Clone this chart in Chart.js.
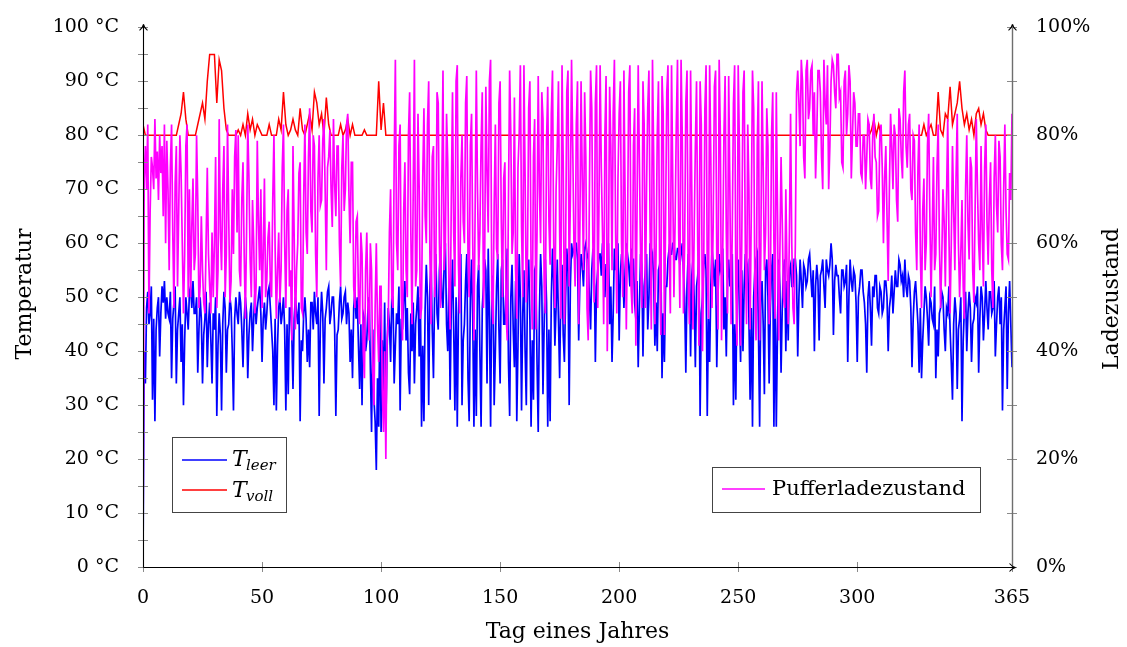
<!DOCTYPE html>
<html>
<head>
  <title>Pufferspeicher über ein Jahr</title>
  <script src="https://cdn.jsdelivr.net/npm/chart.js"></script>
  <style>
    body { margin: 0; background: #fff; }
    #wrap { width: 1127px; height: 647px; }
  </style>
</head>
<body>
  <div id="wrap"><canvas id="c" width="1127" height="647"></canvas></div>
  <script>
    // --- DATA (two values per day) ---

    // T_leer in °C, days 0, 0.5, 1, ... 365
    const tLeer = [
      0, 40, 34, 48, 51, 45, 47, 52, 31, 46, 27, 44, 48, 50, 39, 47, 52, 49, 53, 46,
      50, 47, 46, 51, 35, 46, 49, 52, 34, 44, 47, 50, 38, 45, 30, 42, 50, 47, 44, 51,
      52, 48, 53, 47, 47, 50, 36, 44, 50, 46, 34, 43, 46, 51, 37, 45, 49, 42, 34, 47,
      44, 50, 28, 41, 47, 43, 29, 45, 51, 48, 36, 44, 45, 50, 48, 40, 29, 46, 50, 47,
      45, 51, 49, 44, 37, 46, 50, 47, 35, 43, 47, 49, 40, 46, 51, 45, 48, 50, 52, 47,
      38, 46, 49, 44, 47, 51, 52, 48, 44, 40, 30, 46, 29, 41, 48, 50, 45, 47, 50, 44,
      29, 45, 32, 48, 48, 43, 33, 46, 50, 47, 45, 49, 27, 42, 40, 47, 50, 46, 38, 44,
      37, 49, 49, 44, 51, 47, 45, 50, 28, 45, 51, 47, 34, 46, 48, 51, 52, 45, 47, 50,
      50, 44, 28, 43, 44, 49, 52, 46, 47, 50, 51, 45, 49, 47, 38, 44, 35, 48, 51, 46,
      50, 41, 33, 45, 30, 47, 46, 40, 42, 48, 50, 37, 25, 44, 31, 27, 18, 35, 26, 48,
      25, 42, 30, 49, 26, 40, 48, 45, 38, 50, 50, 34, 41, 47, 45, 52, 29, 46, 44, 50,
      53, 42, 48, 36, 32, 47, 40, 49, 34, 45, 48, 52, 39, 50, 26, 41, 27, 48, 56, 50,
      30, 52, 56, 44, 35, 51, 58, 47, 44, 55, 59, 50, 48, 56, 60, 45, 40, 53, 31, 49,
      57, 44, 29, 50, 26, 47, 55, 58, 30, 42, 45, 53, 58, 35, 27, 50, 57, 46, 26, 44,
      28, 52, 56, 40, 26, 48, 52, 57, 55, 34, 59, 46, 26, 51, 54, 30, 40, 52, 58, 44,
      34, 55, 57, 45, 45, 52, 59, 38, 28, 50, 56, 44, 37, 53, 27, 41, 58, 50, 29, 47,
      55, 40, 30, 52, 57, 46, 26, 42, 31, 55, 56, 38, 25, 47, 58, 52, 32, 45, 57, 49,
      26, 44, 27, 50, 59, 53, 41, 48, 57, 46, 35, 51, 56, 43, 38, 50, 59, 55, 30, 52,
      60, 58, 59, 60, 60, 57, 42, 53, 58, 56, 52, 59, 60, 58, 57, 50, 44, 55, 59, 57,
      38, 52, 55, 58, 58, 54, 60, 57, 50, 56, 56, 60, 45, 52, 38, 47, 59, 55, 57, 60,
      42, 54, 58, 56, 48, 55, 60, 58, 56, 52, 59, 57, 57, 49, 46, 53, 37, 48, 58, 56,
      39, 52, 55, 58, 44, 50, 60, 57, 58, 53, 41, 49, 40, 55, 56, 58, 35, 47, 38, 52,
      52, 57, 59, 58, 58, 60, 60, 57, 57, 59, 59, 56, 58, 60, 55, 50, 36, 52, 58, 56,
      39, 54, 57, 50, 37, 52, 54, 58, 28, 47, 50, 56, 58, 55, 28, 46, 38, 52, 59, 56,
      52, 57, 37, 50, 58, 55, 56, 59, 44, 50, 39, 53, 57, 52, 55, 58, 30, 45, 31, 52,
      57, 48, 38, 55, 40, 52, 58, 55, 56, 46, 31, 48, 26, 50, 55, 57, 58, 44, 26, 50,
      53, 45, 32, 55, 57, 50, 34, 48, 55, 58, 26, 50, 26, 44, 57, 52, 36, 48, 55, 57,
      40, 53, 42, 55, 56, 52, 52, 57, 57, 54, 39, 50, 57, 53, 48, 56, 55, 52, 53, 57,
      58, 54, 50, 55, 40, 52, 56, 53, 42, 54, 55, 57, 52, 48, 57, 55, 54, 56, 60, 57,
      43, 53, 56, 54, 54, 50, 47, 55, 55, 52, 53, 56, 38, 50, 57, 53, 51, 55, 54, 49,
      38, 50, 52, 55, 55, 51, 49, 45, 36, 50, 53, 48, 41, 52, 50, 54, 54, 48, 47, 52,
      51, 47, 48, 53, 53, 50, 40, 48, 50, 54, 47, 51, 55, 52, 52, 57, 56, 53, 54, 50,
      57, 52, 50, 54, 53, 48, 37, 46, 51, 53, 49, 45, 36, 48, 35, 42, 47, 52, 50, 46,
      41, 50, 49, 46, 45, 52, 35, 44, 39, 47, 48, 51, 50, 44, 40, 48, 47, 52, 44, 38,
      31, 45, 50, 47, 33, 44, 46, 50, 27, 42, 48, 51, 40, 47, 51, 48, 38, 45, 46, 50,
      49, 52, 36, 46, 52, 50, 42, 47, 53, 48, 44, 51, 51, 47, 48, 53, 39, 45, 50, 52,
      45, 50, 29, 44, 48, 52, 33, 47, 53, 45, 37
    ];

    // Pufferladezustand in %, days 0, 0.5, 1, ... 365
    const pLade = [
      0, 72, 78, 70, 82, 47, 66, 76, 74, 70, 83, 72, 77, 68, 80, 73, 78, 65, 82, 60,
      79, 70, 55, 74, 82, 62, 48, 71, 78, 52, 66, 80, 73, 60, 47, 58, 78, 82, 50, 70,
      50, 63, 72, 55, 58, 80, 68, 48, 52, 65, 55, 49, 47, 60, 74, 58, 52, 47, 62, 50,
      60, 76, 48, 55, 83, 62, 55, 70, 78, 50, 58, 82, 65, 49, 53, 70, 58, 76, 81, 62,
      80, 55, 52, 68, 75, 58, 46, 62, 82, 72, 57, 50, 68, 60, 47, 52, 79, 64, 55, 70,
      48, 58, 72, 50, 53, 61, 64, 52, 50, 68, 80, 59, 46, 55, 62, 49, 55, 74, 82, 60,
      48, 66, 70, 52, 55, 42, 78, 61, 44, 55, 60, 73, 75, 48, 47, 69, 82, 62, 58, 76,
      85, 66, 62, 80, 78, 58, 50, 72, 80, 67, 68, 79, 83, 70, 55, 74, 76, 81, 70, 63,
      83, 71, 65, 78, 78, 60, 52, 74, 80, 66, 70, 82, 84, 69, 60, 75, 75, 52, 48, 64,
      65, 50, 45, 62, 58, 40, 35, 55, 62, 48, 42, 60, 55, 36, 30, 48, 60, 45, 38, 52,
      52, 33, 25, 40, 20, 42, 45, 62, 70, 50, 48, 75, 94, 60, 55, 78, 82, 50, 42, 66,
      75, 55, 50, 80, 88, 62, 45, 70, 94, 52, 55, 84, 70, 46, 48, 72, 85, 65, 60, 82,
      90, 58, 45, 76, 78, 50, 55, 88, 86, 60, 48, 70, 92, 55, 60, 84, 75, 52, 44, 68,
      88, 62, 52, 90, 93, 56, 47, 72, 80, 64, 60, 86, 91, 58, 50, 78, 84, 60, 42, 66,
      92, 70, 55, 62, 78, 88, 48, 56, 89, 73, 62, 90, 94, 50, 45, 67, 82, 59, 57, 86,
      90, 64, 50, 72, 75, 47, 42, 68, 92, 80, 58, 62, 87, 55, 46, 74, 80, 93, 63, 50,
      93, 72, 49, 58, 85, 90, 55, 44, 76, 83, 44, 62, 91, 70, 60, 88, 83, 52, 47, 79,
      89, 64, 56, 84, 92, 60, 48, 70, 78, 90, 62, 46, 93, 75, 45, 58, 88, 92, 52, 68,
      94, 78, 60, 52, 82, 90, 45, 63, 90, 72, 55, 88, 76, 48, 42, 70, 92, 85, 58, 49,
      86, 93, 48, 66, 93, 74, 62, 45, 80, 91, 40, 57, 89, 78, 55, 84, 94, 62, 47, 72,
      84, 90, 60, 50, 92, 68, 44, 62, 88, 93, 52, 47, 78, 85, 41, 66, 93, 75, 57, 48,
      90, 82, 48, 70, 85, 92, 62, 44, 94, 76, 45, 58, 80, 90, 55, 43, 91, 84, 43, 64,
      88, 93, 58, 47, 93, 72, 50, 64, 82, 94, 62, 48, 94, 80, 47, 60, 86, 92, 53, 45,
      92, 70, 44, 62, 78, 90, 60, 41, 90, 82, 40, 55, 85, 93, 55, 46, 93, 76, 48, 64,
      89, 92, 57, 44, 94, 80, 42, 58, 80, 91, 62, 47, 91, 70, 45, 62, 86, 93, 52, 41,
      93, 78, 41, 60, 88, 92, 58, 45, 82, 70, 44, 66, 92, 85, 50, 42, 78, 90, 42, 58,
      90, 74, 55, 62, 85, 78, 45, 50, 80, 88, 60, 46, 88, 66, 42, 58, 76, 64, 50, 48,
      70, 55, 45, 62, 84, 60, 48, 45, 60, 88, 92, 86, 78, 94, 90, 76, 72, 92, 94, 83,
      85, 92, 93, 80, 88, 72, 80, 92, 92, 88, 76, 70, 94, 86, 82, 93, 70, 78, 90, 94,
      93, 88, 85, 95, 95, 87, 88, 75, 74, 90, 92, 80, 84, 93, 90, 72, 80, 88, 86, 78,
      78, 84, 84, 73, 72, 80, 80, 70, 76, 83, 82, 72, 70, 80, 84, 76, 75, 65, 66, 80,
      82, 74, 60, 72, 78, 65, 53, 70, 84, 78, 70, 82, 80, 68, 64, 85, 83, 76, 72, 88,
      92, 78, 74, 82, 84, 70, 68, 80, 79, 62, 55, 74, 82, 58, 48, 66, 72, 55, 60, 78,
      84, 65, 50, 62, 76, 55, 58, 74, 82, 60, 48, 57, 70, 64, 52, 68, 83, 62, 47, 60,
      78, 66, 55, 72, 84, 60, 50, 58, 68, 52, 46, 70, 80, 64, 57, 76, 74, 55, 49, 66,
      83, 70, 60, 55, 78, 62, 52, 74, 82, 64, 56, 68, 75, 55, 48, 72, 80, 67, 62, 79,
      76, 60, 55, 70, 82, 66, 58, 57, 73, 68, 84
    ];

    // T_voll in °C as [day, value]; flat at 80 between the listed days
    const tVoll = [
      [0,82],[1,80],[14,80],[15,82],[16,84],[17,88],[18,83],[19,80],[22,80],[23,82],
      [24,84],[25,86],[26,83],[27,90],[28,95],[29,95],[30,95],[31,86],[32,94],[33,92],
      [34,85],[35,81],[36,80],[39,80],[40,81],[41,80],[42,82],[43,80],[44,84],[45,81],
      [46,83],[47,80],[48,82],[49,81],[50,80],[52,80],[53,82],[54,80],[56,80],[57,83],
      [58,81],[59,88],[60,82],[61,80],[62,81],[63,83],[64,81],[65,80],[66,85],[67,81],
      [68,80],[69,82],[70,84],[71,81],[72,88],[73,86],[74,82],[75,84],[76,80],[77,87],
      [78,82],[79,80],[82,80],[83,82],[84,80],[85,81],[86,83],[87,80],[88,82],[89,80],
      [92,80],[93,81],[94,80],[98,80],[99,90],[100,81],[101,86],[102,80],[305,80],[306,81],
      [307,83],[308,80],[309,82],[310,80],[327,80],[328,82],[329,80],[330,81],[331,82],[332,80],
      [333,80],[334,88],[335,81],[336,80],[337,84],[338,83],[339,89],[340,82],[341,84],[342,86],
      [343,90],[344,85],[345,82],[346,84],[347,81],[348,83],[349,80],[350,84],[351,85],[352,82],
      [353,84],[354,81],[355,80],[365,80]
    ];

    // x tick positions (days)
    const xTicks = [0, 50, 100, 150, 200, 250, 300, 365];

    const STEP = 0.5; // days between samples
    const FONT = "'DejaVu Serif', serif";

    // --- HELPERS ---
    function seg(ctx, x1, y1, x2, y2) {
      ctx.beginPath(); ctx.moveTo(x1, y1); ctx.lineTo(x2, y2); ctx.stroke();
    }
    // latex-like "to" arrow head; dir 'up' or 'right'
    function arrow(ctx, x, y, dir) {
      ctx.beginPath();
      if (dir === 'up') {
        ctx.moveTo(x - 4, y + 6); ctx.quadraticCurveTo(x - 0.5, y + 3, x, y);
        ctx.moveTo(x + 4, y + 6); ctx.quadraticCurveTo(x + 0.5, y + 3, x, y);
      } else {
        ctx.moveTo(x - 6, y - 4); ctx.quadraticCurveTo(x - 3, y - 0.5, x, y);
        ctx.moveTo(x - 6, y + 4); ctx.quadraticCurveTo(x - 3, y + 0.5, x, y);
      }
      ctx.stroke();
    }

    // --- AXES, TITLES AND LEGENDS ---
    const decor = {
      id: 'decor',
      afterDraw(chart) {
        const { ctx, chartArea: a, scales } = chart;
        ctx.save();

        // tick marks crossing the axis lines
        ctx.strokeStyle = '#8a8a8a';
        ctx.lineWidth = 1;
        scales.y.ticks.forEach(t => {
          const y = Math.round(scales.y.getPixelForValue(t.value)) + 0.5;
          seg(ctx, a.left - 5, y, a.left + 5, y);
        });
        scales.y1.ticks.forEach(t => {
          const y = Math.round(scales.y1.getPixelForValue(t.value)) + 0.5;
          seg(ctx, a.right - 5, y, a.right + 5, y);
        });
        scales.x.ticks.forEach(t => {
          const x = Math.round(scales.x.getPixelForValue(t.value)) + 0.5;
          seg(ctx, x, a.bottom - 5, x, a.bottom + 5);
        });

        // axis lines with arrows
        const L = Math.round(a.left) + 0.5, R = Math.round(a.right) + 0.5, B = Math.round(a.bottom) + 0.5;
        ctx.lineWidth = 1.4;
        ctx.strokeStyle = '#6e6e6e';
        seg(ctx, R, B, R, a.top - 3);
        ctx.lineWidth = 1.1;
        ctx.strokeStyle = '#000';
        arrow(ctx, R, a.top - 3, 'up');
        seg(ctx, L, B, L, a.top - 3);
        arrow(ctx, L, a.top - 3, 'up');
        seg(ctx, L, B, R + 3, B);
        arrow(ctx, R + 3, B, 'right');

        // axis titles
        ctx.fillStyle = '#000';
        ctx.font = `22px ${FONT}`;
        ctx.textAlign = 'center';
        ctx.textBaseline = 'middle';
        ctx.fillText('Tag eines Jahres', (a.left + a.right) / 2, 632);
        ctx.save();
        ctx.translate(25, 294); ctx.rotate(-Math.PI / 2);
        ctx.fillText('Temperatur', 0, 0);
        ctx.restore();
        ctx.save();
        ctx.translate(1112, 299); ctx.rotate(-Math.PI / 2);
        ctx.fillText('Ladezustand', 0, 0);
        ctx.restore();

        // left legend box
        ctx.lineWidth = 1;
        ctx.strokeStyle = '#444';
        ctx.fillStyle = '#fff';
        ctx.fillRect(172.5, 437.5, 114, 75);
        ctx.strokeRect(172.5, 437.5, 114, 75);
        ctx.lineWidth = 1.5;
        ctx.strokeStyle = '#0000ff';
        seg(ctx, 182, 460, 227, 460);
        ctx.strokeStyle = '#ff0000';
        seg(ctx, 182, 490, 227, 490);
        ctx.fillStyle = '#000';
        ctx.textAlign = 'left';
        ctx.textBaseline = 'alphabetic';
        ctx.font = `italic 22px ${FONT}`;
        ctx.fillText('T', 232, 466);
        ctx.fillText('T', 232, 497);
        ctx.font = `italic 15px ${FONT}`;
        ctx.fillText('leer', 246, 470);
        ctx.fillText('voll', 246, 501);

        // right legend box
        ctx.lineWidth = 1;
        ctx.strokeStyle = '#444';
        ctx.fillStyle = '#fff';
        ctx.fillRect(712.5, 467.5, 268, 45);
        ctx.strokeRect(712.5, 467.5, 268, 45);
        ctx.lineWidth = 1.5;
        ctx.strokeStyle = '#ff00ff';
        seg(ctx, 722, 489, 765, 489);
        ctx.fillStyle = '#000';
        ctx.font = `21px ${FONT}`;
        ctx.textBaseline = 'middle';
        ctx.fillText('Pufferladezustand', 772, 490);

        ctx.restore();
      }
    };

    const tickFont = { family: FONT, size: 19 };
    const line = (color, w) => ({
      borderColor: color, borderWidth: w, pointRadius: 0, tension: 0, fill: false
    });

    new Chart(document.getElementById('c'), {
      type: 'line',
      data: {
        datasets: [
          { label: 'Pufferladezustand', yAxisID: 'y1', ...line('#ff00ff', 1.7),
            data: pLade.map((v, i) => ({ x: i * STEP, y: v })) },
          { label: 'T_voll', yAxisID: 'y', ...line('#ff0000', 1.5),
            data: tVoll.map(([d, v]) => ({ x: d, y: v })) },
          { label: 'T_leer', yAxisID: 'y', ...line('#0000ff', 1.7),
            data: tLeer.map((v, i) => ({ x: i * STEP, y: v })) }
        ]
      },
      options: {
        responsive: false,
        animation: false,
        layout: { padding: { top: 19, left: 0, right: 0, bottom: 0 } },
        plugins: { legend: { display: false }, tooltip: { enabled: false } },
        scales: {
          x: {
            type: 'linear', min: 0, max: 365,
            afterBuildTicks: s => { s.ticks = xTicks.map(v => ({ value: v })); },
            afterFit: s => { s.height = 80; },
            grid: { display: false }, border: { display: false },
            ticks: { autoSkip: false, maxRotation: 0, padding: 12, color: '#000', font: tickFont }
          },
          y: {
            position: 'left', min: 0, max: 100,
            afterFit: s => { s.width = 143; },
            grid: { display: false }, border: { display: false },
            ticks: { stepSize: 5, padding: 16, color: '#000', font: tickFont,
                     callback: v => v % 10 === 0 ? v + ' °C' : '' }
          },
          y1: {
            position: 'right', min: 0, max: 100,
            afterFit: s => { s.width = 115; },
            grid: { display: false }, border: { display: false },
            ticks: { stepSize: 10, padding: 16, color: '#000', font: tickFont,
                     callback: v => v % 20 === 0 ? v + '%' : '' }
          }
        }
      },
      plugins: [decor]
    });
  </script>
</body>
</html>
